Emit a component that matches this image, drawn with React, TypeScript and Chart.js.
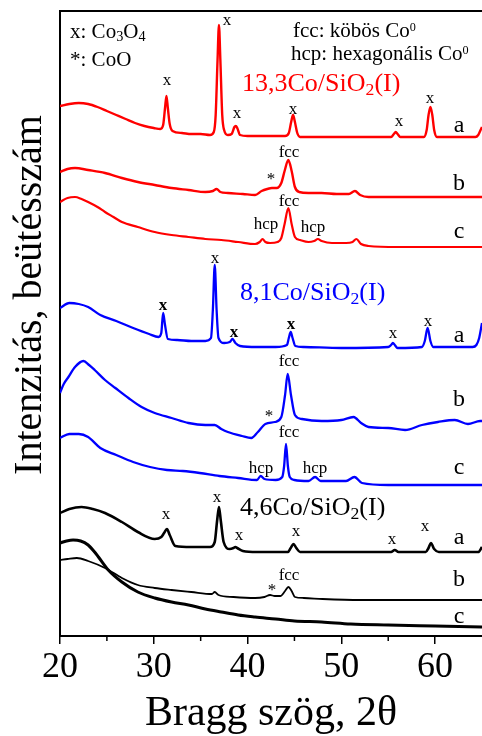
import React, { useEffect, useRef } from 'react';
import { Chart, registerables } from 'chart.js';

Chart.register(...registerables);

const FONT = '"Liberation Serif", "Times New Roman", serif';

// axis settings
const X_MIN = 20;
const X_MAX = 65;
const X_STEP = 10;
const X_MINOR = [25, 35, 45, 55];
const Y_MIN = 0;
const Y_MAX = 625;
const X_TITLE = 'Bragg szög, 2θ';
const Y_TITLE = 'Intenzitás, beütésszám';

type P = [number, number];

// 13,3Co/SiO2(I)
const redA: P[] = [[20,530],[21,532],[22,533],[23,532],[24,529],[25,525],[26,521],[27,517],[28,513],[29,510],[30,508],[30.7,507],[31.0,511],[31.2,528],[31.35,540],[31.5,528],[31.7,512],[32,505],[33,503],[34,502],[35,502],[36,501],[36.4,504],[36.6,521],[36.8,576],[36.95,611],[37.1,576],[37.3,521],[37.5,506],[37.9,501],[38.3,502],[38.6,509],[38.75,510],[38.9,508],[39.2,501],[40,500],[42,500],[44,500],[44.4,503],[44.65,514],[44.85,521],[45.05,514],[45.3,503],[45.6,499],[47,499],[50,499],[53,499],[55.3,499],[55.6,502],[55.8,504],[56,502],[56.3,499],[58.8,499],[59.1,506],[59.3,521],[59.5,529],[59.7,521],[59.9,506],[60.2,499],[63,499],[64.3,499],[64.6,501],[64.85,506],[65,509]];
const redB: P[] = [[20,464],[20.8,467],[21.6,468],[23,466],[24.8,463],[26.6,458],[28.3,454],[30.1,451],[31.9,448],[33.7,446],[35.5,444],[36.3,445],[36.7,447],[37.1,444],[37.9,443],[39.5,442],[40.8,441],[41.5,445],[42.1,447],[42.6,448],[43.1,448],[43.6,453],[43.95,465],[44.35,476],[44.7,465],[45.05,449],[45.5,444],[46.5,443],[47.9,443],[49.5,442],[50.8,442],[51.45,445],[52.0,441],[52.9,439],[55,439],[58,439],[61,439],[65,439]];
const redC: P[] = [[20,434],[20.8,438],[21.6,439],[22.3,437],[23,434],[24,429],[24.8,424],[25.7,419],[26.6,414],[28.3,409],[30.1,404],[31.9,401],[33.7,399],[35.5,397],[37.2,396],[39,394],[40.8,392],[41.3,394],[41.6,397],[41.9,394],[42.4,393],[43.2,394],[43.6,398],[43.95,412],[44.35,428],[44.7,412],[45.05,399],[45.6,396],[46.5,394],[47.1,395],[47.5,397],[47.9,395],[49,393],[50.5,393],[51.2,394],[51.6,397],[52.1,392],[52.9,390],[56,389],[60,389],[65,389]];

// 8,1Co/SiO2(I)
const blueA: P[] = [[20,328],[21,333],[22,332],[23,329],[24.3,321],[26,315],[27.8,308],[29.5,302],[30.5,299],[30.8,303],[31.0,323],[31.2,311],[31.5,297],[32.5,296],[34,295],[35.5,295],[36.1,298],[36.3,326],[36.5,371],[36.7,326],[36.9,298],[37.5,293],[38.1,294],[38.4,297],[38.7,293],[39.2,290],[41,289],[43,289],[44.2,291],[44.4,298],[44.6,304],[44.8,298],[45.1,290],[46,289],[50,288],[55,289],[55.3,291],[55.5,293],[55.7,291],[56,288],[58.6,289],[58.9,295],[59.2,308],[59.5,295],[59.8,289],[62,289],[64,289],[64.4,291],[64.7,298],[65,313]];
const blueB: P[] = [[20,243],[20.4,252],[20.9,259],[21.6,269],[22.5,275],[23.1,271],[23.7,266],[24.8,256],[25.9,248],[27.3,238],[28.7,229],[30.1,223],[31.9,218],[33.7,213],[35.5,211],[36.5,211],[37.2,207],[37.9,204],[39.4,200],[40.4,198],[41.1,204],[41.9,212],[42.9,214],[43.6,219],[44.0,241],[44.28,262],[44.63,241],[45.05,221],[45.8,217],[47.9,215],[50,216],[51.3,219],[52.1,213],[52.9,209],[55,208],[56.8,206],[58.6,211],[60.3,214],[62.1,216],[63.5,212],[64.8,215],[65,215]];
const blueC: P[] = [[20,198],[21,202],[22,202],[23,199],[24.3,188],[26,181],[27.8,174],[29.6,169],[31.4,166],[33.1,165],[34.9,163],[37,160],[39,158],[41,156],[41.4,160],[41.8,157],[43,156],[43.7,159],[43.9,170],[44.1,192],[44.3,170],[44.5,159],[45,156],[46.5,155],[47.2,159],[47.8,155],[50.5,155],[51.4,159],[52.2,153],[55,151],[60,151],[65,151]];

// 4,6Co/SiO2(I)
const blackA: P[] = [[20,123],[21,127],[22.3,129],[23.5,127],[24.8,123],[26.6,114],[28.3,104],[30.1,97],[30.8,99],[31.1,103],[31.4,107],[31.7,101],[32.3,90],[34,89],[36,89],[36.5,94],[36.75,115],[36.95,129],[37.15,115],[37.45,94],[38.1,87],[38.5,88],[38.7,89],[38.9,88],[39.5,85],[41,84],[44.3,84],[44.6,88],[44.9,92],[45.2,88],[45.6,84],[50,84],[55.3,84],[55.7,86],[56.1,84],[59,84],[59.3,88],[59.55,93],[59.9,87],[60.4,84],[64.6,84],[65,89]];
const blackB: P[] = [[20,76],[20.8,77],[21.8,78],[23,75],[24.8,68],[26.6,58],[28.3,51],[30.1,48],[31.9,46],[34,44],[36.2,42],[36.5,44],[36.9,41],[38.5,39],[40.8,38],[41.8,39],[42.4,41],[42.9,40],[43.5,40],[44.0,45],[44.35,49],[44.7,45],[45.05,39],[46,38],[48,37],[52,36],[58,36],[65,36]];
const blackC: P[] = [[20,93],[20.7,95],[21.4,96],[22.2,95],[23,91],[23.6,85],[24.1,79],[25.15,66],[26.6,54],[28.3,44],[30.1,38],[31.9,34],[33.7,31],[35.5,27],[37.2,24],[39,21],[40.8,19],[43,17],[45,15],[47.9,14],[51,12],[55,11],[60,10],[65,9]];

const seriesData = [redA, redB, redC, blueA, blueB, blueC, blackA, blackB, blackC];
const seriesNames = ['13,3 a', '13,3 b', '13,3 c', '8,1 a', '8,1 b', '8,1 c', '4,6 a', '4,6 b', '4,6 c'];
const seriesColors = ['#ff0000', '#ff0000', '#ff0000', '#0000ff', '#0000ff', '#0000ff', '#000000', '#000000', '#000000'];
const seriesWidths = [2.4, 2.4, 2.2, 2.3, 2.3, 2.3, 2.6, 1.8, 3];

// small phase labels: text, 2θ, intensity, bold
const markLabels: [string, number, number, boolean][] = [
  ['x', 31.41, 555, false], ['x', 37.81, 615, false], ['x', 38.87, 522, false], ['x', 44.85, 526, false], ['x', 56.15, 514, false], ['x', 59.45, 537, false],
  ['*', 42.5, 456, false], ['fcc', 44.42, 483, false],
  ['fcc', 44.42, 434, false], ['hcp', 41.97, 411, false], ['hcp', 46.98, 408, false],
  ['x', 30.98, 330, true], ['x', 36.53, 377, false], ['x', 38.55, 303, true], ['x', 44.63, 311, true], ['x', 55.51, 302, false], ['x', 59.24, 314, false],
  ['*', 42.29, 219, false], ['fcc', 44.42, 274, false],
  ['fcc', 44.42, 203, false], ['hcp', 41.43, 167, false], ['hcp', 47.19, 167, false],
  ['x', 31.3, 121, false], ['x', 36.74, 138, false], ['x', 39.09, 100, false], ['x', 45.17, 104, false], ['x', 55.4, 96, false], ['x', 58.92, 109, false],
  ['*', 42.6, 45, false], ['fcc', 44.42, 60, false],
];

// curve letters
const curveLetters: [string, number, number][] = [
  ['a', 62.55, 510], ['b', 62.55, 452], ['c', 62.55, 404],
  ['a', 62.55, 300], ['b', 62.55, 236], ['c', 62.55, 168],
  ['a', 62.55, 98], ['b', 62.55, 56], ['c', 62.55, 19],
];

// rich texts: segments [text, 0 normal | 1 sub | 2 sup]
type Seg = [string, number];
const legendSegs: Seg[][] = [
  [['x: Co', 0], ['3', 1], ['O', 0], ['4', 1]],
  [['*: CoO', 0]],
  [['fcc: köbös Co', 0], ['0', 2]],
  [['hcp: hexagonális Co', 0], ['0', 2]],
];
const legendPos: [number, number][] = [[21.07, 598], [21.07, 570], [44.85, 599], [44.63, 576]];

const sampleSegs: Seg[][] = [
  [['13,3Co/SiO', 0], ['2', 1], ['(I)', 0]],
  [['8,1Co/SiO', 0], ['2', 1], ['(I)', 0]],
  [['4,6Co/SiO', 0], ['2', 1], ['(I)', 0]],
];
const samplePos: [number, number][] = [[39.41, 545], [39.19, 336], [39.19, 121]];
const sampleColors = ['#ff0000', '#0000ff', '#000000'];

function drawRich(ctx: CanvasRenderingContext2D, segs: Seg[], x: number, y: number, size: number, color: string) {
  let cx = x;
  ctx.fillStyle = color;
  ctx.textAlign = 'left';
  ctx.textBaseline = 'alphabetic';
  for (const [t, k] of segs) {
    const s = k === 0 ? size : k === 1 ? size * 0.68 : size * 0.58;
    ctx.font = `${s}px ${FONT}`;
    const dy = k === 1 ? size * 0.16 : k === 2 ? -size * 0.3 : 0;
    ctx.fillText(t, cx, y + dy);
    cx += ctx.measureText(t).width;
  }
}

const annotPlugin = {
  id: 'annot',
  afterDraw(chart: any) {
    const { ctx, chartArea } = chart;
    const xs = chart.scales.x;
    const ys = chart.scales.y;
    ctx.save();
    // top frame line
    ctx.strokeStyle = '#000';
    ctx.lineWidth = 2;
    ctx.beginPath();
    ctx.moveTo(chartArea.left - 1, chartArea.top);
    ctx.lineTo(chartArea.right, chartArea.top);
    ctx.stroke();
    // minor ticks
    ctx.lineWidth = 1.5;
    for (const v of X_MINOR) {
      const px = xs.getPixelForValue(v);
      ctx.beginPath();
      ctx.moveTo(px, chartArea.bottom);
      ctx.lineTo(px, chartArea.bottom + 5);
      ctx.stroke();
    }
    // phase labels
    ctx.fillStyle = '#000';
    ctx.textAlign = 'center';
    ctx.textBaseline = 'middle';
    for (const [t, xv, yv, bold] of markLabels) {
      ctx.font = `${bold ? 'bold ' : ''}17px ${FONT}`;
      ctx.fillText(t, xs.getPixelForValue(xv), ys.getPixelForValue(yv));
    }
    ctx.font = `24px ${FONT}`;
    for (const [t, xv, yv] of curveLetters) {
      ctx.fillText(t, xs.getPixelForValue(xv), ys.getPixelForValue(yv));
    }
    legendSegs.forEach((segs, i) => {
      drawRich(ctx, segs, xs.getPixelForValue(legendPos[i][0]), ys.getPixelForValue(legendPos[i][1]), 21, '#000');
    });
    sampleSegs.forEach((segs, i) => {
      drawRich(ctx, segs, xs.getPixelForValue(samplePos[i][0]), ys.getPixelForValue(samplePos[i][1]), 26, sampleColors[i]);
    });
    // y axis title
    ctx.save();
    ctx.translate(chartArea.left - 30, ys.getPixelForValue(341));
    ctx.rotate(-Math.PI / 2);
    ctx.font = `40px ${FONT}`;
    ctx.fillStyle = '#000';
    ctx.textAlign = 'center';
    ctx.textBaseline = 'middle';
    ctx.fillText(Y_TITLE, 0, 0);
    ctx.restore();
    ctx.restore();
  },
};

export default function App() {
  const ref = useRef<HTMLCanvasElement>(null);
  useEffect(() => {
    document.body.style.margin = '0';
    const canvas = ref.current!;
    const chart = new Chart(canvas, {
      type: 'line',
      data: {
        datasets: seriesData.map((d, i) => ({
          label: seriesNames[i],
          data: d.map(([x, y]) => ({ x, y })),
          borderColor: seriesColors[i],
          backgroundColor: seriesColors[i],
          borderWidth: seriesWidths[i],
          pointRadius: 0,
          fill: false,
          cubicInterpolationMode: 'monotone' as const,
          borderJoinStyle: 'round' as const,
        })),
      },
      options: {
        responsive: false,
        animation: false,
        events: [],
        layout: { padding: { top: 11, left: 0, right: 0, bottom: 0 } },
        plugins: { legend: { display: false }, tooltip: { enabled: false } },
        scales: {
          x: {
            type: 'linear',
            min: X_MIN,
            max: X_MAX,
            ticks: {
              stepSize: X_STEP,
              includeBounds: false,
              color: '#000',
              font: { size: 36, family: FONT, lineHeight: 1 },
              padding: 6,
              maxRotation: 0,
              autoSkip: false,
            },
            grid: { display: true, drawOnChartArea: false, drawTicks: true, tickLength: 8, color: '#000', lineWidth: 1.5 },
            border: { display: true, color: '#000', width: 2 },
            title: {
              display: true,
              text: X_TITLE,
              color: '#000',
              font: { size: 42, family: FONT, lineHeight: 1 },
              padding: { top: 0, bottom: 1 },
            },
            afterFit: (s: any) => { s.height = 100; },
          },
          y: {
            type: 'linear',
            min: Y_MIN,
            max: Y_MAX,
            ticks: { display: false },
            grid: { display: false },
            border: { display: true, color: '#000', width: 2 },
            afterFit: (s: any) => { s.width = 60; },
          },
        },
      },
      plugins: [annotPlugin],
    });
    return () => chart.destroy();
  }, []);
  return <canvas ref={ref} width={482} height={736} style={{ display: 'block' }} />;
}
